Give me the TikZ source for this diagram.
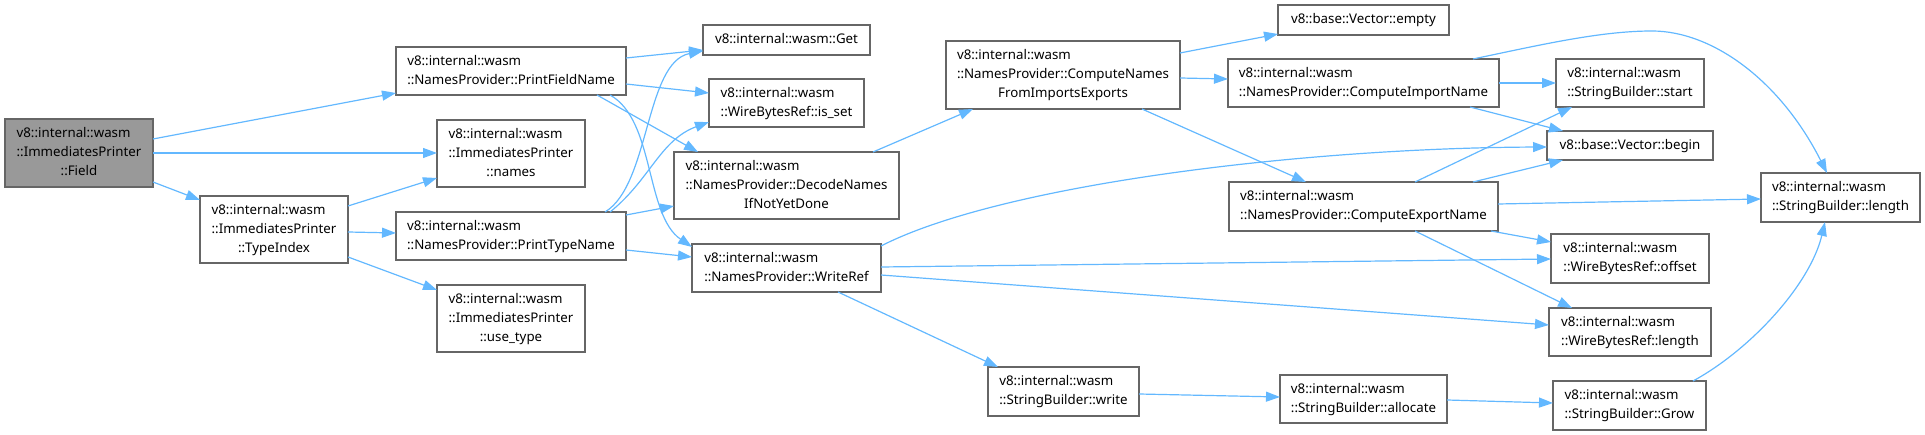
\documentclass[tikz,border=0pt]{standalone}
\usepackage{fontspec}
\setmainfont{Noto Sans}
\usetikzlibrary{arrows.meta}
\definecolor{edgec}{HTML}{63B8FF}
\definecolor{bordc}{HTML}{666666}
\definecolor{rootc}{HTML}{999999}
\newcommand\lastc[1]{\multicolumn{1}{@{}c@{}}{#1}}
\newcommand\dnode[7][fill=white]{%
  \node[box,#1,minimum width={#4-#2},minimum height={#5-#3}] (#6) at ({(#2+#4)/2},{(#3+#5)/2})
  {\begin{tabular}{@{}l@{}}#7\end{tabular}};}
\tikzset{
  box/.style={draw=bordc,line width=1.2pt,inner sep=0pt,outer sep=0pt,
    font=\fontsize{13.3}{19}\selectfont,text=black},
  edge/.style={draw=edgec,line width=1.2pt,-{Triangle[length=14pt,width=10pt]}},
}
\begin{document}
\begin{tikzpicture}[x=1pt,y=-1pt]
\useasboundingbox (0,0) rectangle (1925,435);
\dnode[fill=rootc]{5}{119}{153}{187}{field}{v8::internal::wasm\\::ImmediatesPrinter\\\lastc{::Field}}
\dnode{200}{196}{348}{263}{ti}{v8::internal::wasm\\::ImmediatesPrinter\\\lastc{::TypeIndex}}
\dnode{396}{47}{626}{95}{pfn}{v8::internal::wasm\\\lastc{::NamesProvider::PrintFieldName}}
\dnode{437}{120}{585}{187}{names}{v8::internal::wasm\\::ImmediatesPrinter\\\lastc{::names}}
\dnode{396}{212}{626}{260}{ptn}{v8::internal::wasm\\\lastc{::NamesProvider::PrintTypeName}}
\dnode{437}{285}{585}{352}{use}{v8::internal::wasm\\::ImmediatesPrinter\\\lastc{::use\_type}}
\dnode{703}{25}{870}{55}{get}{v8::internal::wasm::Get}
\dnode{709}{79}{864}{127}{isset}{v8::internal::wasm\\\lastc{::WireBytesRef::is\_set}}
\dnode{674}{152}{899}{219}{decode}{v8::internal::wasm\\::NamesProvider::DecodeNames\\\lastc{IfNotYetDone}}
\dnode{692}{244}{881}{292}{writeref}{v8::internal::wasm\\\lastc{::NamesProvider::WriteRef}}
\dnode{946}{41}{1180}{109}{cnfie}{v8::internal::wasm\\::NamesProvider::ComputeNames\\\lastc{FromImportsExports}}
\dnode{1278}{5}{1449}{35}{empty}{v8::base::Vector::empty}
\dnode{1228}{59}{1499}{107}{cin}{v8::internal::wasm\\\lastc{::NamesProvider::ComputeImportName}}
\dnode{1229}{182}{1498}{231}{cen}{v8::internal::wasm\\\lastc{::NamesProvider::ComputeExportName}}
\dnode{1556}{59}{1704}{107}{start}{v8::internal::wasm\\\lastc{::StringBuilder::start}}
\dnode{1547}{131}{1713}{160}{begin}{v8::base::Vector::begin}
\dnode{1761}{173}{1920}{222}{sblen}{v8::internal::wasm\\\lastc{::StringBuilder::length}}
\dnode{1551}{234}{1709}{283}{offset}{v8::internal::wasm\\\lastc{::WireBytesRef::offset}}
\dnode{1549}{308}{1711}{356}{wbrlen}{v8::internal::wasm\\\lastc{::WireBytesRef::length}}
\dnode{988}{367}{1139}{416}{write}{v8::internal::wasm\\\lastc{::StringBuilder::write}}
\dnode{1280}{375}{1447}{423}{allocate}{v8::internal::wasm\\\lastc{::StringBuilder::allocate}}
\dnode{1553}{381}{1706}{430}{grow}{v8::internal::wasm\\\lastc{::StringBuilder::Grow}}
% edges
\path[edge] (field.east|-0,139) -- (pfn.west|-0,93);
\path[edge] (field.east|-0,153) -- (names.west|-0,153);
\path[edge] (field.east|-0,182) -- (ti.west|-0,200);
\path[edge] (ti.east|-0,206) -- (names.west|-0,178);
\path[edge] (ti.east|-0,232) -- (ptn.west|-0,233);
\path[edge] (ti.east|-0,257) -- (use.west|-0,290);
\path[edge] (pfn.east|-0,58) -- (get.west|-0,50);
\path[edge] (pfn.east|-0,84) -- (isset.west|-0,93);
\path[edge] (pfn.south-|597,0) -- (decode.north-|698,0);
\path[edge] (pfn.south-|610,0) .. controls (655,120) and (645,215) .. (writeref.west|-0,247);
\path[edge] (ptn.north-|605,0) .. controls (650,185) and (645,62) .. (get.west|-0,51);
\path[edge] (ptn.north-|610,0) .. controls (650,180) and (660,140) .. (isset.west|-0,122);
\path[edge] (ptn.east|-0,215) -- (decode.west|-0,206);
\path[edge] (ptn.east|-0,250) -- (writeref.west|-0,257);
\path[edge] (decode.north-|873,0) -- (cnfie.south-|973,0);
\path[edge] (cnfie.east|-0,53) -- (empty.west|-0,34);
\path[edge] (cnfie.east|-0,78) -- (cin.west|-0,79);
\path[edge] (cnfie.south-|1142,0) -- (cen.north-|1306,0);
\path[edge] (cin.east|-0,83) -- (start.west|-0,83);
\path[edge] (cin.south-|1470,0) -- (begin.north-|1563,0);
\path[edge] (cin.north-|1473,0) .. controls (1540,45) and (1600,31) .. (1652,31) .. controls (1712,31) and (1780,80) .. (sblen.north-|1827,0);
\path[edge] (cen.north-|1415,0) -- (start.south-|1572,0);
\path[edge] (cen.north-|1473,0) -- (begin.south-|1563,0);
\path[edge] (cen.east|-0,204) -- (sblen.west|-0,199);
\path[edge] (cen.south-|1491,0) -- (offset.west|-0,242);
\path[edge] (cen.south-|1415,0) -- (wbrlen.north-|1572,0);
\path[edge] (writeref.east|-0,246) .. controls (1000,185) and (1300,148) .. (begin.west|-0,147);
\path[edge] (writeref.east|-0,267) -- (offset.west|-0,259);
\path[edge] (writeref.east|-0,275) -- (wbrlen.west|-0,325);
\path[edge] (writeref.south-|838,0) -- (write.north-|998,0);
\path[edge] (write.east|-0,394) -- (allocate.west|-0,397);
\path[edge] (allocate.east|-0,400) -- (grow.west|-0,403);
\path[edge] (grow.north-|1693,0) .. controls (1750,350) and (1810,285) .. (sblen.south-|1825,0);
\end{tikzpicture}
\end{document}
